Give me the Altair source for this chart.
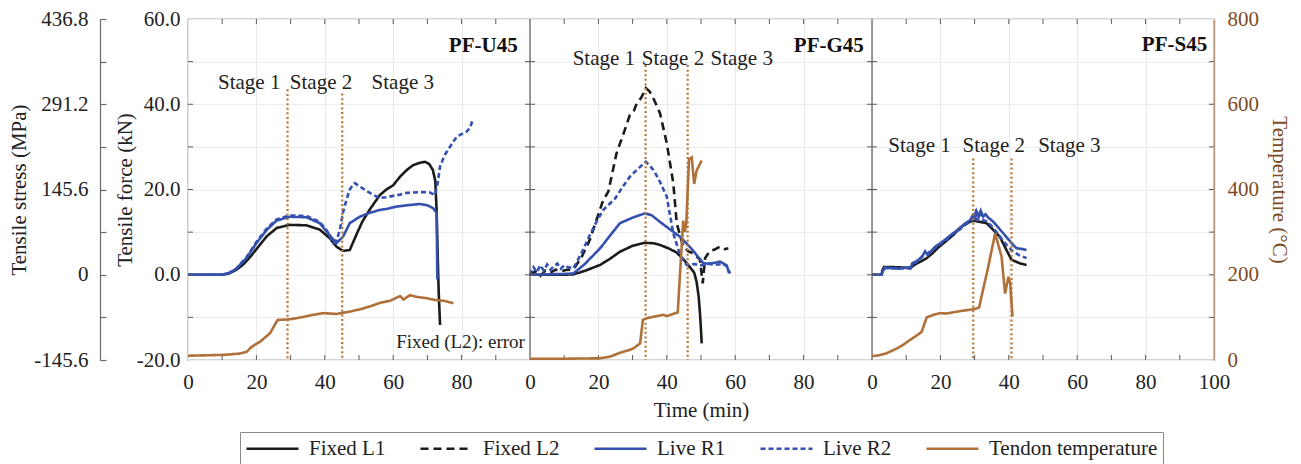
import altair as alt
import pandas as pd

# ---------------------------------------------------------------------------
# Series definitions
# ---------------------------------------------------------------------------
SERIES = ["Fixed L1", "Fixed L2", "Live R1", "Live R2", "Tendon temperature"]
SERIES_COLORS = ["#1b1b1b", "#1b1b1b", "#3551b0", "#3551b0", "#b0703a"]
SERIES_DASHES = [[1, 0], [8, 5], [1, 0], [5, 3], [1, 0]]
SERIES_WIDTHS = [2.6, 2.6, 2.6, 3.2, 2.6]

PANELS = ["PF-U45", "PF-G45", "PF-S45"]
PANEL_OFFSET = {"PF-U45": 0, "PF-G45": 100, "PF-S45": 200}

# ---------------------------------------------------------------------------
# PF-U45  (time in min, force in kN, temperature in deg C)
# ---------------------------------------------------------------------------
u45_l1_t = [0, 5, 10, 12, 14, 16, 18, 20, 23, 26, 29.7, 34.6, 38.5, 41.4, 43.4, 45.3, 47.3,
            49.4, 51, 53.3, 56.1, 58, 60, 62, 64, 65.8, 67.5, 69.3, 70.5, 71.6, 72.3, 72.7,
            73.0, 73.3, 73.7]
u45_l1 = [0, 0, 0, 0.3, 1.1, 2.3, 4.0, 6.0, 9.0, 11.0, 11.7, 11.6, 10.6, 8.6, 6.6, 5.6, 5.8,
          9.7, 12.5, 15.5, 18.7, 20.0, 21.0, 23.0, 24.6, 25.7, 26.2, 26.5, 26.0, 24.6, 22.0, 15.0,
          5.0, -4.0, -11.8]

u45_r1_t = [0, 5, 10, 12, 14, 17.1, 20, 23, 25.9, 29.7, 34.6, 38.5, 41.4, 43.4, 45.3, 47.3,
            50.2, 53, 56.1, 58.5, 61, 64, 67.8, 70, 71.7, 72.7, 72.9]
u45_r1 = [0, 0, 0, 0.4, 1.3, 3.9, 7.4, 10.5, 12.7, 13.6, 13.5, 12.1, 9.3, 7.4, 8.9, 12.1,
          13.6, 14.5, 15.2, 15.5, 16.0, 16.3, 16.6, 16.3, 15.6, 14.5, -1.1]

u45_r2_t = [0, 5, 10, 12, 14, 17.1, 20, 23, 25.9, 29.7, 34.6, 38.5, 40.5, 42.5, 43.5, 44.4,
            45.3, 46.3, 47.3, 48.4, 48.8, 50, 52, 54, 56.1, 58, 60, 62, 64, 66, 68, 70.8, 72.2,
            73.0, 73.7, 75, 77, 78.6, 80, 81.5, 82.5, 83.2]
u45_r2 = [0, 0, 0, 0.4, 1.4, 4.1, 7.7, 10.8, 13.0, 13.9, 13.8, 12.4, 10.5, 7.4, 8.2, 10.5,
          14.5, 17.5, 20.0, 21.3, 21.5, 20.8, 19.8, 18.8, 18.0, 18.2, 18.5, 18.8, 19.2, 19.3,
          19.4, 19.3, 18.7, 21.5, 25.4, 28.0, 30.5, 32.4, 33.0, 33.6, 34.5, 36.3]

u45_temp_t = [0, 10.3, 15, 17.2, 18.6, 21.1, 24, 26.2, 29.8, 33, 36.6, 39.6, 43.4, 47, 50.3,
              53, 56.1, 59.1, 62.0, 63, 64.9, 67, 69.8, 72, 74.7, 77.6]
u45_temp = [10, 12, 15, 19.5, 31, 43, 63, 94, 95.5, 100, 106, 110, 108, 113, 119, 125, 134,
            139, 150, 142, 152, 148, 145, 141, 139, 133]

# ---------------------------------------------------------------------------
# PF-G45
# ---------------------------------------------------------------------------
g45_l1_t = [0, 5, 10, 12.7, 16, 20.5, 23.5, 26.3, 30, 33.6, 36, 38, 40.5, 42.9, 45, 46.8, 48,
            48.7, 49.3, 49.7, 50.0, 50.2]
g45_l1 = [0, 0, 0, 0.1, 0.9, 2.3, 3.8, 5.4, 6.8, 7.5, 7.4, 7.0, 6.2, 5.2, 3.5, 1.75, 0.5,
          -1.6, -5.0, -9.0, -13.0, -16.1]

g45_l2_t = [0, 1.5, 3, 4.5, 6, 7.5, 9, 10.5, 12.7, 15, 17.5, 19.5, 21.4, 22.9, 25.3, 27.3,
            29.2, 30.4, 31.2, 32.5, 33.9, 35, 36.3, 38, 40, 41.9, 42.9, 44.8, 46.3, 47.8, 49.7,
            50.5, 51.2, 52.6, 54, 55.6, 57, 58]
g45_l2 = [0, 0.8, -0.3, 1.0, 0.5, 1.2, 0.8, 1.1, 1.3, 4.0, 8.2, 13.0, 17.5, 19.5, 28.5, 33.0,
          37.5, 38.5, 40.2, 41.5, 43.8, 43.0, 41.0, 37.9, 30.8, 21.5, 12.1, 6.6, 5.5, 5.0, 3.5,
          -2.0, 3.9, 5.6, 5.9, 6.6, 6.0, 6.2]

g45_r1_t = [0, 5, 10, 12.7, 16, 20.5, 23.5, 26.3, 30, 33.6, 35.5, 38, 41, 43.9, 47, 50.7, 52,
            54, 55.6, 57.5, 58.2]
g45_r1 = [0, 0.1, 0.2, 0.3, 2.5, 6.2, 9.3, 12.1, 13.4, 14.4, 14.0, 12.4, 10.6, 8.9, 6.3, 2.7,
          2.6, 2.8, 3.1, 2.2, 0.4]

g45_r2_t = [0, 1, 2, 3, 4, 5, 6, 7, 8, 9, 10, 11, 12.7, 15, 17.5, 19.5, 21.4, 24.9, 27, 29.2,
            31.5, 33.9, 36.1, 38, 40, 41.9, 43.9, 45.8, 48, 50, 52, 54, 56, 57.5, 58.5]
g45_r2 = [0, 1.8, 0.6, 2.2, 1.0, 2.4, 1.2, 2.0, 2.6, 1.4, 2.2, 1.8, 1.5, 5.0, 9.3, 12.5, 15.2,
          17.9, 20.5, 23.0, 24.8, 26.5, 24.6, 21.8, 18.3, 9.7, 4.6, 2.3, 2.5, 2.2, 2.6, 2.3,
          2.5, 2.1, 0.3]

g45_temp_t = [0, 10, 20.5, 23.5, 26.3, 28.5, 30.2, 32.2, 33.0, 34.1, 36.5, 39.0, 40.0, 42.9,
              43.2, 44.0, 44.8, 45.3, 45.7, 46.5, 47.3, 48.0, 48.7, 50.2]
g45_temp = [3, 3, 4, 8, 17, 22, 27, 39, 94, 98, 102, 106, 103, 111, 112, 220, 327, 300, 320,
            471, 475, 413, 444, 468]

# ---------------------------------------------------------------------------
# PF-S45
# ---------------------------------------------------------------------------
s45_l1_t = [0, 2.8, 3.0, 3.5, 6, 9, 11.1, 12.5, 14, 16, 17.9, 19.5, 21.8, 24, 25.7, 27.5, 29.6,
            31.5, 33.5, 35.5, 37.4, 39, 40.8, 42, 43.5, 45.2]
s45_l1 = [0, 0, 1.0, 1.8, 1.8, 1.7, 1.5, 2.4, 3.0, 3.9, 5.2, 6.5, 8.0, 9.5, 11.0, 12.0, 12.7,
          12.4, 12.1, 10.5, 8.9, 6.3, 3.5, 3.1, 2.6, 2.3]

s45_r1_t = [0, 2.8, 3.2, 3.8, 6, 8, 10, 11.3, 11.8, 13, 14.5, 15.5, 16.3, 17.1, 18.5, 20, 21.8,
            23.5, 25.7, 27, 28.7, 29.5, 30.2, 30.6, 31.2, 31.8, 32.5, 33.2, 34, 35.5, 37, 38.4,
            40, 41.3, 42.3, 43.5, 45.2]
s45_r1 = [0, 0, 1.0, 1.5, 1.6, 1.4, 1.7, 1.5, 2.7, 3.2, 4.0, 5.5, 4.6, 5.4, 6.6, 7.4, 8.5, 9.6,
          10.9, 11.9, 12.8, 14.0, 13.2, 14.8, 13.6, 15.0, 13.6, 14.2, 13.4, 12.4, 11.0, 9.7,
          8.2, 7.0, 6.2, 6.1, 5.8]

s45_r2_t = [0, 2.8, 3.2, 3.8, 6, 8, 10, 11.3, 11.8, 13, 14.5, 15.5, 16.3, 17.1, 18.5, 20, 21.8,
            23.5, 25.7, 27, 28.7, 29.6, 30.3, 31, 31.7, 32.5, 33.5, 34.5, 35.5, 37, 38.5, 40,
            41.3, 43, 45.2]
s45_r2 = [0, 0, 1.1, 1.7, 1.5, 1.6, 1.5, 1.8, 2.5, 3.0, 4.2, 4.8, 5.0, 5.6, 6.3, 7.2, 8.3, 9.5,
          10.6, 11.6, 12.4, 13.0, 14.6, 12.6, 15.2, 12.8, 12.5, 11.8, 10.9, 9.4, 7.8, 6.4, 5.4,
          4.6, 3.9]

s45_temp_t = [0, 2, 4.3, 7, 9, 11.1, 13, 14.5, 16.0, 18, 19.9, 21.8, 23.8, 26, 29.6, 31.3,
              34.0, 36.0, 37.9, 38.9, 39.9, 40.4, 41.1]
s45_temp = [9, 11, 16, 26, 35, 47, 57, 66, 100, 106, 110, 109, 112, 115, 119, 123, 219, 297,
            242, 156, 195, 180, 102]

# ---------------------------------------------------------------------------
# Annotations
# ---------------------------------------------------------------------------
stage_panel = ["PF-U45", "PF-U45", "PF-G45", "PF-G45", "PF-S45", "PF-S45"]
stage_time = [29.1, 45.1, 33.8, 46.1, 29.6, 40.8]
stage_top = [43.5, 42.5, 49.2, 49.2, 27.3, 27.3]

stage_label_panel = ["PF-U45"] * 3 + ["PF-G45"] * 3 + ["PF-S45"] * 3
stage_label_time = [17.9, 38.9, 62.8, 21.6, 41.8, 61.9, 13.9, 35.6, 57.7]
stage_label_kn = [43.6, 43.6, 43.6, 49.2, 49.2, 49.2, 28.9, 28.9, 28.9]
stage_label_text = ["Stage 1", "Stage 2", "Stage 3"] * 3

panel_label_time = [96.4, 97.6, 98.0]
panel_label_kn = [52.2, 52.2, 52.4]

note_panel = ["PF-U45"]
note_time = [98.5]
note_kn = [-17.3]
note_text = ["Fixed (L2): error"]

FORCE_MIN, FORCE_MAX = -20, 60
TEMP_MIN, TEMP_MAX = 0, 800
STRESS_PER_KN = 7.28
STRESS_TICKS = [round(STRESS_PER_KN * kn, 1) for kn in range(FORCE_MIN, FORCE_MAX + 1, 10)]

# ---------------------------------------------------------------------------
# Geometry
# ---------------------------------------------------------------------------
PLOT_W, PLOT_H = 1026, 341
X_SPAN = 300                              # three 0-100 min panels side by side
PX_PER_MIN = PLOT_W / X_SPAN
PX_PER_KN = PLOT_H / (FORCE_MAX - FORCE_MIN)
STRESS_AXIS_GAP = 88                      # stress axis line, px left of the plot
TICK_PX = 5                               # inward frame tick length

tick_t = TICK_PX / PX_PER_MIN
tick_f = TICK_PX / PX_PER_KN

# ---------------------------------------------------------------------------
# Tables
# ---------------------------------------------------------------------------
force_curves = [
    ("PF-U45", "Fixed L1", u45_l1_t, u45_l1),
    ("PF-U45", "Live R1", u45_r1_t, u45_r1),
    ("PF-U45", "Live R2", u45_r2_t, u45_r2),
    ("PF-G45", "Fixed L1", g45_l1_t, g45_l1),
    ("PF-G45", "Fixed L2", g45_l2_t, g45_l2),
    ("PF-G45", "Live R1", g45_r1_t, g45_r1),
    ("PF-G45", "Live R2", g45_r2_t, g45_r2),
    ("PF-S45", "Fixed L1", s45_l1_t, s45_l1),
    ("PF-S45", "Live R2", s45_r2_t, s45_r2),
    ("PF-S45", "Live R1", s45_r1_t, s45_r1),
]
temp_curves = [
    ("PF-U45", u45_temp_t, u45_temp),
    ("PF-G45", g45_temp_t, g45_temp),
    ("PF-S45", s45_temp_t, s45_temp),
]

rows = []
for panel, series, ts, vs in force_curves:
    for i, (t, v) in enumerate(zip(ts, vs)):
        rows.append({"panel": panel, "series": series, "idx": i,
                     "x": t + PANEL_OFFSET[panel], "kn": v})
force_df = pd.DataFrame(rows)

rows = []
for panel, ts, vs in temp_curves:
    for i, (t, v) in enumerate(zip(ts, vs)):
        rows.append({"panel": panel, "series": "Tendon temperature", "idx": i,
                     "x": t + PANEL_OFFSET[panel], "temp": v})
temp_df = pd.DataFrame(rows)

stage_df = pd.DataFrame({
    "x": [t + PANEL_OFFSET[p] for p, t in zip(stage_panel, stage_time)],
    "top": stage_top,
    "bottom": [FORCE_MIN] * len(stage_top),
})
stage_text_df = pd.DataFrame({
    "x": [t + PANEL_OFFSET[p] for p, t in zip(stage_label_panel, stage_label_time)],
    "kn": stage_label_kn,
    "label": stage_label_text,
})
panel_text_df = pd.DataFrame({
    "x": [t + PANEL_OFFSET[p] for p, t in zip(PANELS, panel_label_time)],
    "kn": panel_label_kn,
    "label": PANELS,
})
note_df = pd.DataFrame({
    "x": [t + PANEL_OFFSET[p] for p, t in zip(note_panel, note_time)],
    "kn": note_kn,
    "label": note_text,
})
divider_df = pd.DataFrame({"x": [100, 200], "y": [FORCE_MIN] * 2, "y2": [FORCE_MAX] * 2})

# inward-pointing ticks on the panel frames: horizontal ones on the side edges,
# vertical ones on the top and bottom edges
h_rows = []
for kn in range(FORCE_MIN + 10, FORCE_MAX, 10):
    for edge in (0, 100, 200, 300):
        if edge < X_SPAN:
            h_rows.append({"x": edge, "x2": edge + tick_t, "y": kn})
        if edge > 0:
            h_rows.append({"x": edge - tick_t, "x2": edge, "y": kn})
h_tick_df = pd.DataFrame(h_rows)

v_rows = []
for base in (0, 100, 200):
    for m in range(10, 100, 10):
        v_rows.append({"x": base + m, "y": FORCE_MIN, "y2": FORCE_MIN + tick_f})
        v_rows.append({"x": base + m, "y": FORCE_MAX, "y2": FORCE_MAX - tick_f})
v_tick_df = pd.DataFrame(v_rows)

stress_df = pd.DataFrame({"mpa": [STRESS_TICKS[0], STRESS_TICKS[-1]]})

# ---------------------------------------------------------------------------
# Scales, axes, legend
# ---------------------------------------------------------------------------
FONT = "Liberation Serif"
TEXT = "#222222"
BROWN_TEXT = "#7d4b24"
FRAME = "#5a5a5a"


def x_scale():
    return alt.Scale(domain=[0, X_SPAN], nice=False, zero=False)


def y_scale():
    return alt.Scale(domain=[FORCE_MIN, FORCE_MAX], nice=False, zero=False)


def stress_scale():
    return alt.Scale(domain=[STRESS_TICKS[0], STRESS_TICKS[-1]], nice=False, zero=False)


color_scale = alt.Scale(domain=SERIES, range=SERIES_COLORS)
dash_scale = alt.Scale(domain=SERIES, range=SERIES_DASHES)
width_scale = alt.Scale(domain=SERIES, range=SERIES_WIDTHS)

# labels with a plain hyphen as minus sign
SIGNED_1F = "(datum.value < 0 ? '-' : '') + format(abs(datum.value), '.1f')"

x_axis = alt.Axis(
    values=list(range(0, X_SPAN + 1, 20)),
    labelExpr="datum.value == 300 ? '100' : format(datum.value % 100, 'd')",
    title="Time (min)", grid=True, gridColor="#e9e9e9", ticks=False, tickSize=0,
    domain=False, labelPadding=11, titlePadding=7, labelFlush=False, labelOverlap=False,
)
y_axis = alt.Axis(
    values=list(range(FORCE_MIN, FORCE_MAX + 1, 10)),
    labelExpr="datum.value % 20 == 0 ? " + SIGNED_1F + " : ''",
    title="Tensile force (kN)", orient="left", grid=True, gridColor="#ededed",
    ticks=False, tickSize=0, domain=False, labelPadding=8, titlePadding=1,
    labelOverlap=False,
)
# stress labels and title (left of the axis line)
stress_label_axis = alt.Axis(
    values=STRESS_TICKS,
    labelExpr="abs(datum.value) < 0.01 ? '0' : "
              "(abs(round(datum.value / 72.8)) % 2 == 0 ? " + SIGNED_1F + " : '')",
    title="Tensile stress (MPa)", orient="left", offset=STRESS_AXIS_GAP, grid=False,
    ticks=False, tickSize=0, domain=False,
    labelPadding=12, titlePadding=4, labelOverlap=False,
)
# stress axis line with ticks pointing towards the plot
stress_line_axis = alt.Axis(
    values=STRESS_TICKS, orient="right", offset=-(PLOT_W + STRESS_AXIS_GAP),
    labels=False, title=None, grid=False,
    ticks=True, tickSize=6, tickWidth=1.2, tickColor="#6a6a6a",
    domain=True, domainWidth=1.2, domainColor="#6a6a6a",
)
temp_axis = alt.Axis(
    values=list(range(TEMP_MIN, TEMP_MAX + 1, 100)),
    labelExpr="datum.value % 200 == 0 ? format(datum.value, 'd') : ''",
    title="Temperature (°C)", orient="right", grid=False, ticks=False, tickSize=0,
    domainColor="#b9957a", domainWidth=1.4, labelColor=BROWN_TEXT, titleColor=BROWN_TEXT,
    labelPadding=13, titlePadding=10, labelOverlap=False,
)

legend = alt.Legend(
    title=None, orient="none", legendX=52, legendY=413, direction="horizontal",
    symbolType="M-2.6,0H2.6", symbolSize=400, symbolOffset=16, symbolStrokeWidth=3,
    symbolFillColor="transparent", labelOffset=25, columnPadding=29, labelLimit=400,
    labelFontSize=21, labelFont=FONT, labelColor=TEXT,
    strokeColor="#8a8a8a", fillColor="white", padding=5,
)


def x_enc(field="x:Q"):
    return alt.X(field, scale=x_scale(), axis=x_axis)


def y_plain(field):
    return alt.Y(field, scale=y_scale(), axis=None)


# ---------------------------------------------------------------------------
# Layers (every force-scale layer shares the same fixed domain)
# ---------------------------------------------------------------------------
stage_rules = alt.Chart(stage_df).mark_rule(
    color="#b8732f", strokeWidth=2.2, strokeDash=[2, 2.6]
).encode(
    x=x_enc(),
    y=y_plain("top:Q"),
    y2="bottom:Q",
)

force_lines = alt.Chart(force_df).mark_line().encode(
    x=x_enc(),
    y=alt.Y("kn:Q", scale=y_scale(), axis=y_axis),
    color=alt.Color("series:N", scale=color_scale, legend=legend),
    strokeDash=alt.StrokeDash("series:N", scale=dash_scale, legend=legend),
    strokeWidth=alt.StrokeWidth("series:N", scale=width_scale, legend=None),
    detail="panel:N",
    order="idx:Q",
)

dividers = alt.Chart(divider_df).mark_rule(color=FRAME, strokeWidth=1.2).encode(
    x=x_enc(),
    y=y_plain("y:Q"),
    y2="y2:Q",
)

h_ticks = alt.Chart(h_tick_df).mark_rule(color=FRAME, strokeWidth=1).encode(
    x=x_enc(),
    x2="x2:Q",
    y=y_plain("y:Q"),
)

v_ticks = alt.Chart(v_tick_df).mark_rule(color=FRAME, strokeWidth=1).encode(
    x=x_enc(),
    y=y_plain("y:Q"),
    y2="y2:Q",
)

stage_text = alt.Chart(stage_text_df).mark_text(
    font=FONT, fontSize=21, color=TEXT, align="center", baseline="alphabetic"
).encode(
    x=x_enc(),
    y=y_plain("kn:Q"),
    text="label:N",
)

panel_text = alt.Chart(panel_text_df).mark_text(
    font=FONT, fontSize=21, fontWeight="bold", color="#111111", align="right",
    baseline="alphabetic"
).encode(
    x=x_enc(),
    y=y_plain("kn:Q"),
    text="label:N",
)

note = alt.Chart(note_df).mark_text(
    font=FONT, fontSize=19, color=TEXT, align="right", baseline="alphabetic"
).encode(
    x=x_enc(),
    y=y_plain("kn:Q"),
    text="label:N",
)

temp_lines = alt.Chart(temp_df).mark_line().encode(
    x=x_enc(),
    y=alt.Y("temp:Q", scale=alt.Scale(domain=[TEMP_MIN, TEMP_MAX], nice=False), axis=temp_axis),
    color=alt.Color("series:N", scale=color_scale, legend=legend),
    strokeDash=alt.StrokeDash("series:N", scale=dash_scale, legend=legend),
    strokeWidth=alt.StrokeWidth("series:N", scale=width_scale, legend=None),
    detail="panel:N",
    order="idx:Q",
)

# two invisible carriers of the stress scale: one for its labels, one for its line
stress_labels = alt.Chart(stress_df).mark_point(opacity=0).encode(
    y=alt.Y("mpa:Q", scale=stress_scale(), axis=stress_label_axis),
)
stress_line = alt.Chart(stress_df).mark_point(opacity=0).encode(
    y=alt.Y("mpa:Q", scale=stress_scale(), axis=stress_line_axis),
)

chart = alt.layer(
    force_lines, stage_rules, dividers, h_ticks, v_ticks, stage_text, panel_text, note,
    temp_lines, stress_labels, stress_line,
).resolve_scale(
    y="independent"
).properties(
    width=PLOT_W,
    height=PLOT_H,
    autosize=alt.AutoSizeParams(type="none"),
    padding={"left": 188, "top": 19, "right": 87, "bottom": 104},
).configure(
    font=FONT,
).configure_view(
    stroke=FRAME, strokeWidth=1.2,
).configure_axis(
    labelFont=FONT, titleFont=FONT, labelFontSize=21, titleFontSize=21,
    titleFontWeight="normal", labelColor=TEXT, titleColor=TEXT,
)

chart.save("out.html", embed_options={"renderer": "svg", "actions": False})
